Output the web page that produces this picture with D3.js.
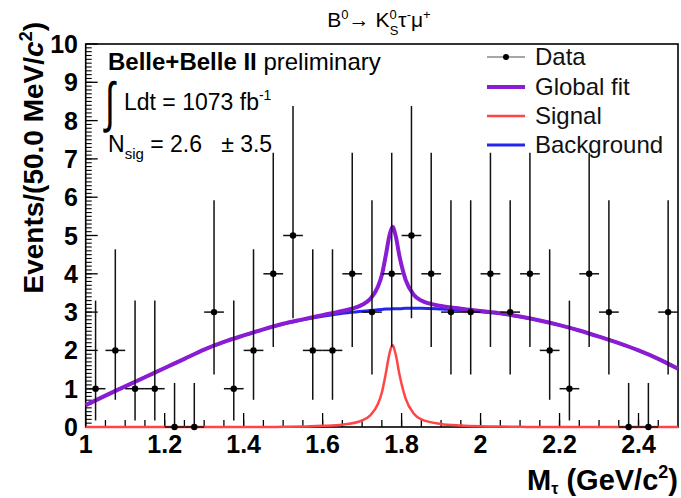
<!DOCTYPE html>
<html><head><meta charset="utf-8">
<script src="https://cdn.jsdelivr.net/npm/d3@7/dist/d3.min.js"></script>
<style>body{margin:0;background:#fff}svg{display:block}text{font-family:"Liberation Sans",Arial,Helvetica,sans-serif}</style>
</head><body><svg id="c" width="681" height="498"></svg>
<script>
// ---- data ----
const binCenters = [1.025,1.075,1.125,1.175,1.225,1.275,1.325,1.375,1.425,1.475,1.525,1.575,1.625,1.675,1.725,1.775,1.825,1.875,1.925,1.975,2.025,2.075,2.125,2.175,2.225,2.275,2.325,2.375,2.425,2.475];
const counts     = [1,2,1,1,0,0,3,1,2,4,5,2,2,4,3,4,5,4,3,3,4,3,4,2,1,4,3,0,0,3];
const yLow  = counts.map(n => [0,0.17,0.71,1.37,2.09,2.84][n]);
const yHigh = counts.map(n => [1.15,3.30,4.64,5.92,7.16,8.38][n]);
const binHalf = 0.025;

const fitX   = [1.00,1.05,1.10,1.15,1.20,1.25,1.30,1.35,1.40,1.45,1.50,1.55,1.60,1.65,1.70,1.72,1.74,1.75,1.76,1.77,1.777,1.785,1.795,1.81,1.83,1.85,1.90,1.95,2.00,2.05,2.10,2.15,2.20,2.25,2.30,2.35,2.40,2.45,2.50];
const bkgFit = [0.57,0.82,1.06,1.30,1.54,1.78,2.02,2.22,2.39,2.55,2.69,2.80,2.89,2.97,3.02,3.04,3.06,3.07,3.08,3.08,3.09,3.09,3.09,3.10,3.10,3.10,3.08,3.05,3.01,2.96,2.88,2.78,2.66,2.52,2.36,2.19,2.00,1.78,1.52];
const sigFit = [0,0,0,0,0,0,0,0,0,0,0.005,0.01,0.03,0.06,0.17,0.30,0.60,0.90,1.40,1.95,2.14,1.90,1.35,0.75,0.36,0.20,0.08,0.04,0.02,0.01,0.005,0,0,0,0,0,0,0,0];
const totFit = [0.57,0.82,1.06,1.30,1.54,1.78,2.02,2.22,2.39,2.55,2.695,2.81,2.92,3.03,3.19,3.34,3.66,3.97,4.48,5.03,5.23,4.99,4.44,3.85,3.46,3.30,3.16,3.09,3.03,2.97,2.885,2.78,2.66,2.52,2.36,2.19,2.00,1.78,1.52];

const xTicks = [1,1.2,1.4,1.6,1.8,2,2.2,2.4];
const xTickLabels = ["1","1.2","1.4","1.6","1.8","2","2.2","2.4"];
const yTicks = [0,1,2,3,4,5,6,7,8,9,10];
const legendLabels = ["Data","Global fit","Signal","Background"];

// ---- drawing ----
const svg = d3.select("#c");
const L = 85.7, R = 678, T = 44, B = 427;
const x = d3.scaleLinear().domain([1,2.5]).range([L,R]);
const y = d3.scaleLinear().domain([0,10]).range([B,T]);
const C = {fit:"#8a1cd4", sig:"#ff4545", bkg:"#2525ee"};

// frame
svg.append("rect").attr("x",L).attr("y",T).attr("width",R-L).attr("height",B-T)
  .attr("fill","none").attr("stroke","#000").attr("stroke-width",1.6);

// ticks
const xMinor = d3.range(1.05,2.5,0.05).map(v=>+v.toFixed(2));
svg.append("g").selectAll("line").data(xMinor).join("line")
  .attr("x1",d=>x(d)).attr("x2",d=>x(d)).attr("y1",B).attr("y2",B-7).attr("stroke","#000").attr("stroke-width",1.3);
svg.append("g").selectAll("line").data(xTicks).join("line")
  .attr("x1",d=>x(d)).attr("x2",d=>x(d)).attr("y1",B).attr("y2",B-14).attr("stroke","#000").attr("stroke-width",1.3);
const yMinor = d3.range(0.1,10,0.1).map(v=>+v.toFixed(1));
svg.append("g").selectAll("line").data(yMinor).join("line")
  .attr("x1",L).attr("x2",L+6).attr("y1",d=>y(d)).attr("y2",d=>y(d)).attr("stroke","#000").attr("stroke-width",1.1);
svg.append("g").selectAll("line").data(yTicks).join("line")
  .attr("x1",L).attr("x2",L+12).attr("y1",d=>y(d)).attr("y2",d=>y(d)).attr("stroke","#000").attr("stroke-width",1.3);

// tick labels
svg.append("g").selectAll("text").data(xTicks).join("text")
  .attr("x",d=>x(d)).attr("y",453).attr("text-anchor","middle")
  .attr("font-size",25).attr("font-weight","bold").text((d,i)=>xTickLabels[i]);
svg.append("g").selectAll("text").data(yTicks).join("text")
  .attr("x",78).attr("y",d=>y(d)+9).attr("text-anchor","end")
  .attr("font-size",25).attr("font-weight","bold").text(d=>d);

// axis titles
const yt = svg.append("text").attr("transform","translate(43,22) rotate(-90)")
  .attr("text-anchor","end").attr("font-size",28).attr("font-weight","bold");
yt.append("tspan").text("Events/(50.0 MeV/");
yt.append("tspan").attr("font-style","italic").text("c");
yt.append("tspan").attr("font-size",18).attr("dy",-11).text("2");
yt.append("tspan").attr("dy",11).text(")");

const xt = svg.append("text").attr("x",678).attr("y",490).attr("text-anchor","end")
  .attr("font-size",29).attr("font-weight","bold");
xt.append("tspan").text("M");
xt.append("tspan").attr("font-size",16).attr("dy",4).text("τ");
xt.append("tspan").attr("dy",-4).text(" (GeV/c");
xt.append("tspan").attr("font-size",18).attr("dy",-12).text("2");
xt.append("tspan").attr("dy",12).text(")");

// title
const tt = svg.append("text").attr("x",379).attr("y",27).attr("text-anchor","middle").attr("font-size",21);
tt.append("tspan").text("B");
tt.append("tspan").attr("font-size",13).attr("dy",-8).text("0");
tt.append("tspan").attr("dy",8).text("→ K");
tt.append("tspan").attr("font-size",13).attr("dy",-8).text("0");
tt.append("tspan").attr("font-size",13).attr("dx",-7).attr("dy",16).text("S");
tt.append("tspan").attr("dy",-8).text("τ");
tt.append("tspan").attr("font-size",13).attr("dy",-8).text("-");
tt.append("tspan").attr("dy",8).text("μ");
tt.append("tspan").attr("font-size",13).attr("dy",-8).text("+");

// curves
const line = vals => d3.line().x((d,i)=>x(fitX[i])).y(d=>y(d)).curve(d3.curveMonotoneX)(vals);
svg.append("path").attr("d",line(bkgFit)).attr("fill","none").attr("stroke",C.bkg).attr("stroke-width",3);
svg.append("path").attr("d",line(totFit)).attr("fill","none").attr("stroke",C.fit).attr("stroke-width",4);
svg.append("path").attr("d",line(sigFit)).attr("fill","none").attr("stroke",C.sig).attr("stroke-width",2.5);

// data
const g = svg.append("g").attr("stroke","#111").attr("stroke-width",1.5);
binCenters.forEach((c,i)=>{
  g.append("line").attr("x1",x(c)).attr("x2",x(c)).attr("y1",y(yLow[i])).attr("y2",y(yHigh[i]));
  g.append("line").attr("x1",x(c-binHalf)).attr("x2",x(c+binHalf)).attr("y1",y(counts[i])).attr("y2",y(counts[i]));
});
svg.append("g").selectAll("circle").data(binCenters).join("circle")
  .attr("cx",d=>x(d)).attr("cy",(d,i)=>y(counts[i])).attr("r",3.2).attr("fill","#000");

// annotations
const a1 = svg.append("text").attr("x",108).attr("y",70).attr("font-size",24);
a1.append("tspan").attr("font-weight","bold").text("Belle+Belle II");
a1.append("tspan").text(" preliminary");
svg.append("text").attr("transform","translate(105,121) scale(0.85,1.3)").attr("font-size",42).attr("font-weight","300").text("∫");
const a2 = svg.append("text").attr("x",124).attr("y",110).attr("font-size",23);
a2.append("tspan").text("Ldt = 1073 fb");
a2.append("tspan").attr("font-size",14).attr("dy",-10).text("-1");
const a3 = svg.append("text").attr("x",108).attr("y",152).attr("font-size",23);
a3.append("tspan").text("N");
a3.append("tspan").attr("font-size",15).attr("dy",7).text("sig");
a3.append("tspan").attr("dy",-7).text(" = 2.6\u00a0\u00a0\u00a0± 3.5");

// legend
const ly = [57,87,116,145];
const lcol = ["#888", C.fit, C.sig, C.bkg];
const lw = [1.5,4,2.5,3];
legendLabels.forEach((t,i)=>{
  svg.append("line").attr("x1",487).attr("x2",525).attr("y1",ly[i]).attr("y2",ly[i]).attr("stroke",lcol[i]).attr("stroke-width",lw[i]);
  svg.append("text").attr("x",535).attr("y",ly[i]+8).attr("font-size",24).attr("fill","#111").text(t);
});
svg.append("circle").attr("cx",506).attr("cy",ly[0]).attr("r",3).attr("fill","#000");
</script></body></html>
